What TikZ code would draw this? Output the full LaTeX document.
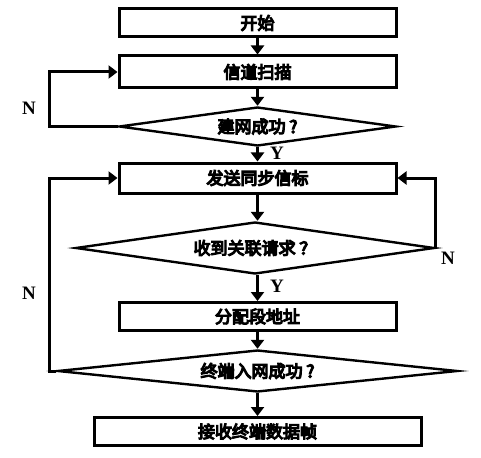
\documentclass[tikz,border=0pt]{standalone}
\usepackage{fontspec}
\newfontfamily\cjk{Noto Sans CJK SC}[FakeBold=7]
\newfontfamily\lat{Liberation Serif}
\usetikzlibrary{shapes.geometric,arrows.meta}
\begin{document}
\begin{tikzpicture}[x=1pt,y=-1pt,
  every node/.style={font=\cjk\fontsize{17}{18}\selectfont},
  proc/.style={draw,line width=3pt,rectangle,minimum width=#1,inner sep=0pt},
  dec/.style={draw,line width=2.4pt,diamond,inner sep=0pt,aspect=#1},
  arr/.style={line width=3pt,-{Triangle[length=9pt,width=13pt]}},
  lab/.style={font=\lat\bfseries\fontsize{19}{19}\selectfont,inner sep=0pt}]
\useasboundingbox (0,0) rectangle (481,457);
\node[proc=277pt,minimum height=28pt] (b1) at (257.5,23) {开始};
\node[proc=277pt,minimum height=32pt] (b2) at (257.5,72) {信道扫描};
\node[dec=7.1,minimum width=277pt,minimum height=39pt] (d1) at (257.5,126.5) {建网成功 ?};
\node[proc=277pt,minimum height=30pt] (b3) at (257.5,178) {发送同步信标};
\node[dec=6.9,minimum width=359pt,minimum height=52pt] (d2) at (255,248) {收到关联请求 ？};
\node[proc=277pt,minimum height=28pt] (b4) at (257.5,316.5) {分配段地址};
\node[dec=9.5,minimum width=400pt,minimum height=42pt] (d3) at (257.5,371) {终端入网成功 ?};
\node[proc=327pt,minimum height=28pt] (b5) at (257.5,431.5) {接收终端数据帧};
\coordinate (l1) at (49,126.5);
\coordinate (l3) at (49,371);
\draw[arr] (b1) -- (b2);
\draw[arr] (b2) -- (d1);
\draw[arr] (d1) -- (b3);
\draw[arr] (b3.south) -- (b3.south |- d2.north);
\draw[arr] (b3.south |- d2.south) -- (b4.north);
\draw[arr] (b4) -- (d3);
\draw[arr] (d3) -- (b5);
\draw[arr] (d1.west) -- (l1) |- (b2.west);
\draw[arr] (d2.east) |- (b3.east);
\draw[arr] (d3.west) -- (l3) |- (b3.west);
\node[lab] (n1) at (29,108) {N};
\node[lab] (n2) at (29,293) {N};
\node[lab] (n3) at (448,258) {N};
\node[lab] (y1) at (277,153) {Y};
\node[lab] (y2) at (277,286) {Y};
\end{tikzpicture}
\end{document}
